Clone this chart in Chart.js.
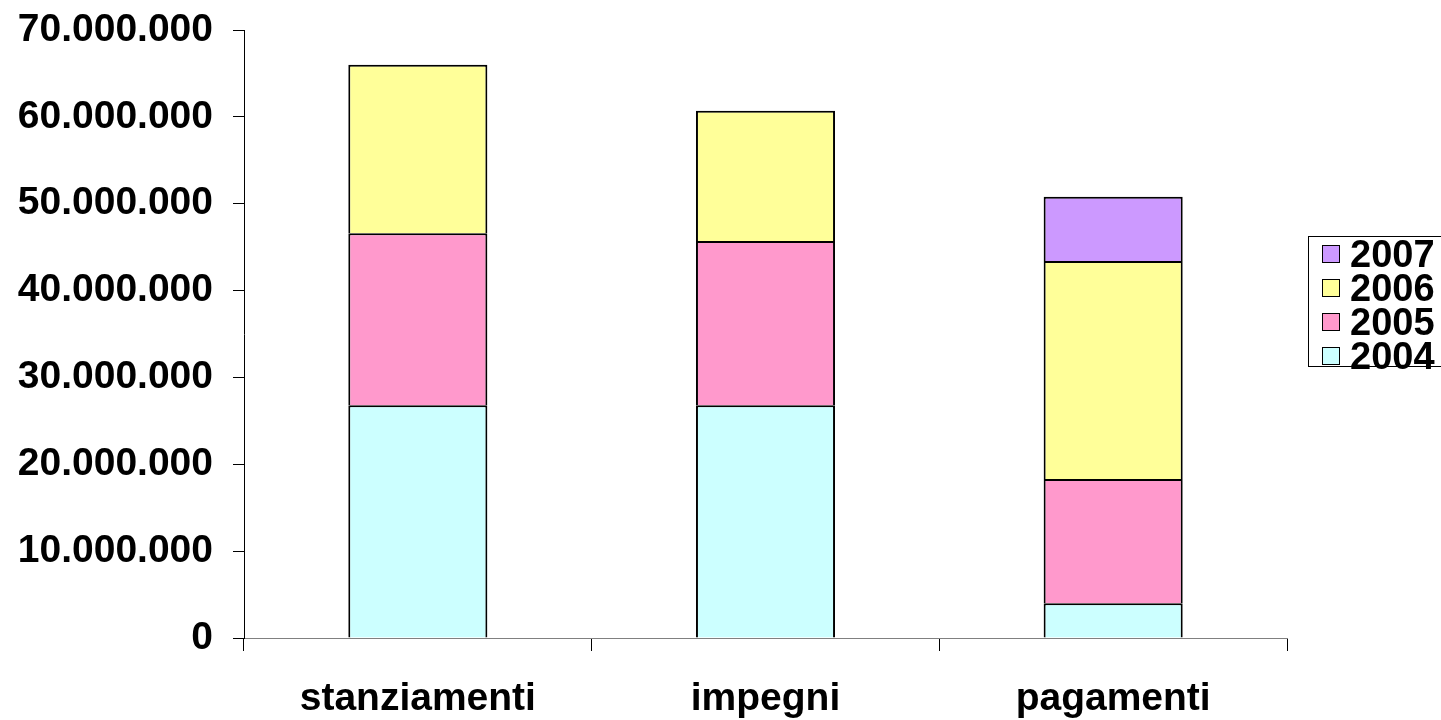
<!DOCTYPE html>
<html>
<head>
<meta charset="utf-8">
<script src="https://cdn.jsdelivr.net/npm/chart.js@4/dist/chart.umd.min.js"></script>
<style>
  html, body { margin: 0; padding: 0; background: #fff; overflow: hidden; }
  #wrap { position: relative; width: 1441px; height: 720px; }
  #legend {
    position: absolute; left: 1308px; top: 236px; width: 160px; height: 131px;
    border: 1px solid #000; background: #fff; box-sizing: border-box;
    font-family: 'Liberation Sans', Arial, sans-serif; font-weight: bold; font-size: 38px;
  }
  .item { height: 34px; display: flex; align-items: center; }
  .sw { width: 18px; height: 18px; border: 1.5px solid #000; margin-left: 13px; margin-right: 10px; box-sizing: border-box; }
</style>
</head>
<body>
<div id="wrap">
  <canvas id="c" width="1441" height="720"></canvas>
  <div id="legend"></div>
</div>
<script>
const categories = ['stanziamenti', 'impegni', 'pagamenti'];
const years = ['2004', '2005', '2006', '2007'];
const v2004 = [26800000, 26800000, 4000000];
const v2005 = [19800000, 18900000, 14300000];
const v2006 = [19400000, 15000000, 25100000];
const v2007 = [null, null, 7400000];
const colors = ['#CCFFFF', '#FF99CC', '#FFFF99', '#CC99FF'];
const yTicks = [0, 10000000, 20000000, 30000000, 40000000, 50000000, 60000000, 70000000];

const series = [v2004, v2005, v2006, v2007];
const font = { family: "'Liberation Sans', Arial, sans-serif", weight: 'bold', size: 39 };

function fmt(n) {
  return String(n).replace(/\B(?=(\d{3})+(?!\d))/g, '.');
}

new Chart(document.getElementById('c'), {
  type: 'bar',
  data: {
    labels: categories,
    datasets: years.map((y, i) => ({
      label: y,
      data: series[i],
      backgroundColor: colors[i],
      borderColor: '#000',
      borderWidth: { top: 2, left: 2, right: 2, bottom: 0 },
      borderSkipped: false,
      inflateAmount: 0,
      barPercentage: 0.4,
      categoryPercentage: 1
    }))
  },
  options: {
    responsive: false,
    devicePixelRatio: 1,
    animation: false,
    layout: { padding: { left: 0, top: 30, right: 154, bottom: 0 } },
    plugins: { legend: { display: false }, tooltip: { enabled: false } },
    scales: {
      x: {
        stacked: true,
        afterFit: s => { s.height = 82; },
        border: { display: true, color: '#808080', width: 1 },
        grid: { display: true, offset: true, drawOnChartArea: false, drawTicks: true, tickLength: 13, color: '#000' },
        ticks: { color: '#000', font, padding: 25 }
      },
      y: {
        stacked: true,
        min: 0,
        max: 70000000,
        afterFit: s => { s.width = 244; s.paddingTop = 0; s.paddingBottom = 0; },
        afterBuildTicks: s => { s.ticks = yTicks.map(v => ({ value: v })); },
        border: { display: true, color: '#000', width: 1 },
        grid: { display: true, drawOnChartArea: false, drawTicks: true, tickLength: 11, color: '#000' },
        ticks: { color: '#000', font, padding: 20, callback: v => fmt(v) }
      }
    }
  }
});

// legend, top entry is the last year as in the original
const leg = document.getElementById('legend');
leg.innerHTML = years.map((y, i) => ({ y, c: colors[i] })).reverse().map(o =>
  `<div class="item"><span class="sw" style="background:${o.c}"></span><span>${o.y}</span></div>`
).join('');
</script>
</body>
</html>
